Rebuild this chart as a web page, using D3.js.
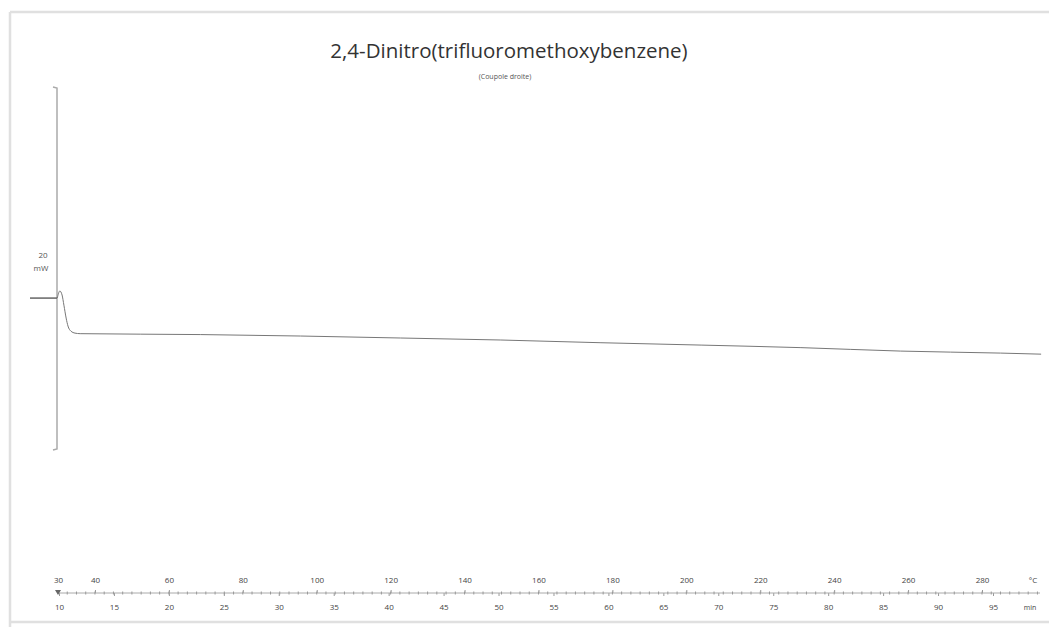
<!DOCTYPE html>
<html>
<head>
<meta charset="utf-8">
<script src="https://cdn.jsdelivr.net/npm/d3@7"></script>
<style>
  html, body { margin: 0; padding: 0; background: #fff; }
  svg { display: block; }
  text { font-family: "Open Sans", "DejaVu Sans", sans-serif; }
</style>
</head>
<body>
<svg id="chart" width="1049" height="627"></svg>
<script>
// ---- data ----
const titleText = "2,4-Dinitro(trifluoromethoxybenzene)";
const subtitleText = "(Coupole droite)";
// temperature (°C) and heat flow (mW, relative to start)
const temperature = [29.8, 30.5, 31.1, 31.6, 32.2, 32.7, 33.5, 34.6, 36, 68.5, 95.6, 122.7, 149.8, 176.9, 204, 231, 258, 285, 296];
const heatFlow   = [0, 0.39, 0.17, -0.39, -1.10, -1.54, -1.82, -1.93, -1.96, -2.01, -2.09, -2.20, -2.31, -2.46, -2.59, -2.73, -2.92, -3.03, -3.09];
const tempTicks = [30, 40, 60, 80, 100, 120, 140, 160, 180, 200, 220, 240, 260, 280];
const timeTicks = [10, 15, 20, 25, 30, 35, 40, 45, 50, 55, 60, 65, 70, 75, 80, 85, 90, 95];
const tempUnit = "°C";
const timeUnit = "min";
const scaleBarLabel = ["20", "mW"];
const scaleBarSpan = [-8.37, 11.63]; // 20 mW
const startHeatFlow = 0;

// ---- scales ----
const svg = d3.select("#chart");
const x = d3.scaleLinear().domain([30, 280]).range([58, 982]);
const xt = d3.scaleLinear().domain([10, 95]).range([59, 993]);
const y = d3.scaleLinear().domain([-8.37, 11.63]).range([450, 87]);

// frame
const frame = svg.append("g").attr("stroke", "#e0e0e0").attr("stroke-width", 2.5).attr("fill", "none");
frame.append("line").attr("x1", 10).attr("x2", 10).attr("y1", 12).attr("y2", 627);
frame.append("line").attr("x1", 10).attr("x2", 1049).attr("y1", 12).attr("y2", 12);
frame.append("line").attr("x1", 10).attr("x2", 1049).attr("y1", 622).attr("y2", 622);

// title
svg.append("text").attr("x", 509).attr("y", 58).attr("text-anchor", "middle")
  .attr("font-size", 20.5).attr("fill", "#333").text(titleText);
svg.append("text").attr("x", 505).attr("y", 79).attr("text-anchor", "middle")
  .attr("font-size", 7).attr("fill", "#555").text(subtitleText);

// scale bar
const barX = 57;
svg.append("path")
  .attr("d", `M${barX - 4},${y(scaleBarSpan[1])} L${barX},${y(scaleBarSpan[1]) + 1} L${barX},${y(scaleBarSpan[0]) - 1} L${barX - 4},${y(scaleBarSpan[0])}`)
  .attr("fill", "none").attr("stroke", "#aaa").attr("stroke-width", 1.5);
svg.append("text").attr("x", 43).attr("y", 258).attr("text-anchor", "middle")
  .attr("font-size", 8).attr("fill", "#555").text(scaleBarLabel[0]);
svg.append("text").attr("x", 41).attr("y", 271).attr("text-anchor", "middle")
  .attr("font-size", 8).attr("fill", "#555").text(scaleBarLabel[1]);
// start marker
svg.append("line").attr("x1", 30).attr("x2", barX).attr("y1", y(startHeatFlow)).attr("y2", y(startHeatFlow))
  .attr("stroke", "#666").attr("stroke-width", 1.5);

// curve
const pts = temperature.map((t, i) => [t, heatFlow[i]]);
const line = d3.line().x(d => x(d[0])).y(d => y(d[1])).curve(d3.curveMonotoneX);
svg.append("path").datum(pts).attr("d", line)
  .attr("fill", "none").attr("stroke", "#777").attr("stroke-width", 1);

// bottom axes
const axisY = 593;
const topAxis = d3.axisTop(x).tickValues(tempTicks).tickSize(3).tickPadding(7).tickFormat(d3.format("d"));
const gTop = svg.append("g").attr("transform", `translate(0,${axisY})`).call(topAxis);
const botAxis = d3.axisBottom(xt).tickValues(timeTicks).tickSize(3).tickPadding(8).tickFormat(d3.format("d"));
const gBot = svg.append("g").attr("transform", `translate(0,${axisY})`).call(botAxis);
[gTop, gBot].forEach(g => {
  g.select(".domain").remove();
  g.selectAll("line").attr("stroke", "#999");
  g.selectAll("text").attr("font-size", 8).attr("fill", "#444").attr("font-family", "'Open Sans', sans-serif");
});
// axis line
svg.append("line").attr("x1", x(30)).attr("x2", 1040).attr("y1", axisY).attr("y2", axisY)
  .attr("stroke", "#aaa").attr("stroke-width", 1);
// minor ticks
const minor = d3.range(32.5, 297, 2.5);
svg.append("g").selectAll("line").data(minor).join("line")
  .attr("x1", d => x(d)).attr("x2", d => x(d)).attr("y1", axisY - 1.5).attr("y2", axisY + 1.5)
  .attr("stroke", "#999").attr("stroke-width", 1);
// start triangle
svg.append("path").attr("d", `M${x(30) - 3},${axisY - 3} L${x(30) + 3},${axisY - 3} L${x(30)},${axisY + 2} Z`)
  .attr("fill", "#666");
// units
svg.append("text").attr("x", 1033).attr("y", 583).attr("text-anchor", "middle")
  .attr("font-size", 8).attr("fill", "#444").text(tempUnit);
svg.append("text").attr("x", 1030).attr("y", 610).attr("text-anchor", "middle")
  .attr("font-size", 7).attr("fill", "#444").text(timeUnit);
</script>
</body>
</html>
